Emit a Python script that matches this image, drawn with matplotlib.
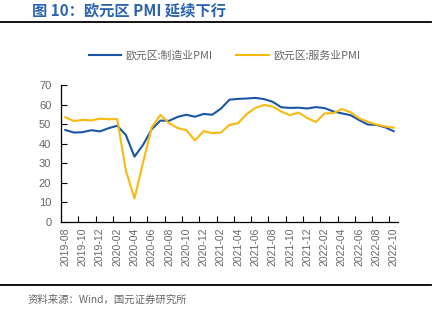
import numpy as np
import matplotlib
matplotlib.use("Agg")
import matplotlib.pyplot as plt
from matplotlib.lines import Line2D

plt.rcParams['font.family'] = ['Liberation Sans', 'Noto Sans CJK SC', 'DejaVu Sans']

months = ['2019-08', '2019-09', '2019-10', '2019-11', '2019-12',
          '2020-01', '2020-02', '2020-03', '2020-04', '2020-05', '2020-06',
          '2020-07', '2020-08', '2020-09', '2020-10', '2020-11', '2020-12',
          '2021-01', '2021-02', '2021-03', '2021-04', '2021-05', '2021-06',
          '2021-07', '2021-08', '2021-09', '2021-10', '2021-11', '2021-12',
          '2022-01', '2022-02', '2022-03', '2022-04', '2022-05', '2022-06',
          '2022-07', '2022-08', '2022-09', '2022-10']

# 欧元区制造业PMI
mfg_pmi = [47.0, 45.7, 45.9, 46.9, 46.3, 47.9, 49.2, 44.5, 33.4, 39.4, 47.4,
           51.8, 51.7, 53.7, 54.8, 53.8, 55.2, 54.8, 57.9, 62.5, 62.9, 63.1,
           63.4, 62.8, 61.4, 58.6, 58.3, 58.4, 58.0, 58.7, 58.2, 56.5, 55.5,
           54.6, 52.1, 49.8, 49.6, 48.4, 46.4]

# 欧元区服务业PMI
svc_pmi = [53.5, 51.6, 52.2, 51.9, 52.8, 52.5, 52.6, 26.4, 12.0, 30.5, 48.3,
           54.7, 50.5, 48.0, 46.9, 41.7, 46.4, 45.4, 45.7, 49.6, 50.5, 55.2,
           58.3, 59.8, 59.0, 56.4, 54.6, 55.9, 53.1, 51.1, 55.5, 55.6, 57.7,
           56.1, 53.0, 51.2, 49.8, 48.8, 48.2]

BLUE = '#1b55a6'
YELLOW = '#f9b90f'
GRAY = '#666666'

fig = plt.figure(figsize=(4.48, 3.26), dpi=100)
ax = fig.add_axes([61 / 448, 1 - 222 / 326, 337 / 448, 137 / 326])

x = np.arange(len(months))
ax.plot(x, mfg_pmi, color=BLUE, lw=1.5, label='欧元区:制造业PMI')
ax.plot(x, svc_pmi, color=YELLOW, lw=1.5, label='欧元区:服务业PMI')

ax.set_xlim(-0.5, len(months) - 0.5)
ax.set_ylim(0, 70)
ax.set_yticks(range(0, 71, 10))

ax.set_xticks(x[::2])
ax.set_xticklabels(months[::2], rotation=90, fontsize=7.5, color=GRAY)
ax.set_xticks(np.arange(-0.5, len(months) - 1, 2), minor=True)
ax.tick_params(axis='x', which='major', length=0, pad=4)
ax.tick_params(axis='x', which='minor', length=4, direction='in', width=0.8)
ax.tick_params(axis='y', length=4, direction='in', width=0.8,
               labelsize=8, labelcolor=GRAY, pad=7)

for s in ['top', 'right']:
    ax.spines[s].set_visible(False)
for s in ['left', 'bottom']:
    ax.spines[s].set_linewidth(0.9)

leg = ax.legend(loc='center', bbox_to_anchor=(0.501, 1 - 55.7 / 326),
                bbox_transform=fig.transFigure, ncol=2, frameon=False,
                handlelength=3.0, handletextpad=0.4, columnspacing=2.2,
                prop={'family': ['Noto Sans CJK SC'], 'size': 7.8})
for t in leg.get_texts():
    t.set_color(GRAY)

fig.text(32 / 448, 1 - 10 / 326, '图 10：欧元区 PMI 延续下行', ha='left', va='center',
         fontsize=11, fontweight='bold', color='#2c63ad',
         family=['Noto Sans CJK SC', 'DejaVu Sans'])
fig.text(28 / 448, 1 - 300 / 326, '资料来源：Wind，国元证券研究所', ha='left',
         va='center', fontsize=7.5, color=GRAY,
         family=['Noto Sans CJK SC', 'DejaVu Sans'])

fig.add_artist(Line2D([0, 431 / 448], [1 - 22 / 326] * 2, color='black', lw=1.3,
                      transform=fig.transFigure))
fig.add_artist(Line2D([0, 431 / 448], [1 - 285 / 326] * 2, color='black', lw=1.3,
                      transform=fig.transFigure))

fig.savefig('out.png', dpi=100)
